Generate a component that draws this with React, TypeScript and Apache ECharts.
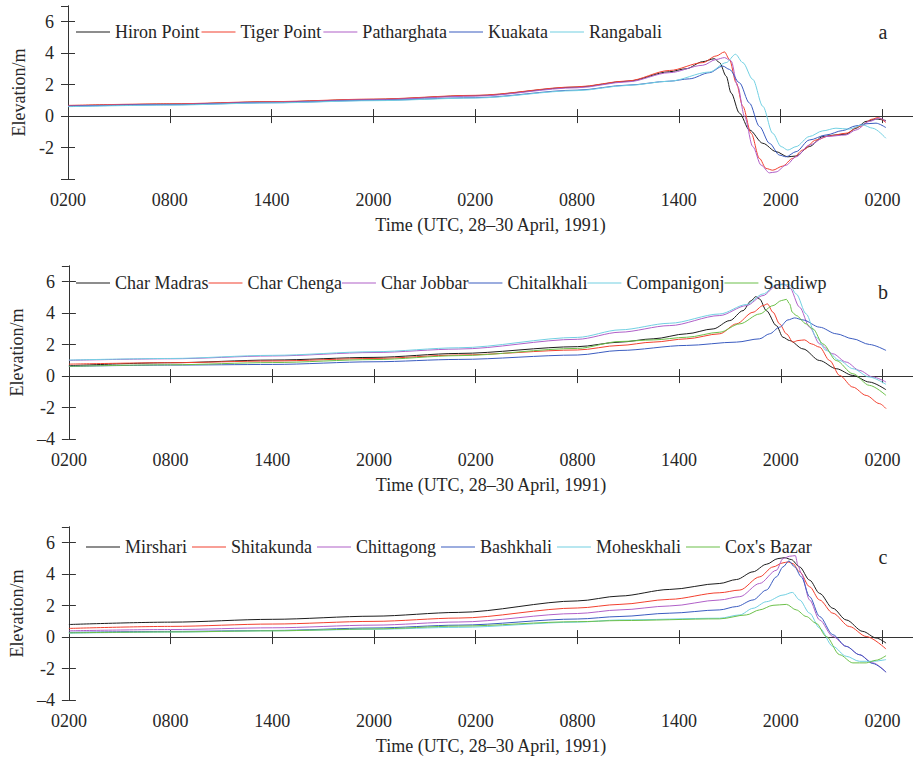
import React, { useEffect, useRef } from 'react';
import * as echarts from 'echarts';

type Pt = [number, number];

// ---------- data (x = hours since 0200 UTC 28 April 1991, y = elevation in m) ----------
const xTickLabels = ['0200', '0800', '1400', '2000', '0200', '0800', '1400', '2000', '0200'];
const yTickValues = [-4, -2, 0, 2, 4, 6];
const yTickLabels = ['\u20134', '-2', '0', '2', '4', '6'];

const panelANames = ['Hiron Point', 'Tiger Point', 'Patharghata', 'Kuakata', 'Rangabali'];
const hironPoint: Pt[] = [[0,0.65],[6,0.76],[12,0.9],[18,1.06],[24,1.3],[30,1.84],[33,2.22],[35.45,2.82],[36.43,3.01],[37.41,3.46],[38.1,3.65],[38.4,3.4],[38.79,2.54],[39.08,1.47],[39.57,0.19],[40.16,-0.88],[40.95,-1.73],[41.73,-2.26],[42.42,-2.59],[42.9,-2.54],[43.69,-1.94],[44.48,-1.3],[45.26,-1.2],[45.85,-1.15],[46.44,-0.77],[47.03,-0.34],[47.62,-0.19],[48.2,-0.28]];
const tigerPoint: Pt[] = [[0,0.68],[6,0.78],[12,0.92],[18,1.08],[24,1.32],[30,1.86],[33,2.24],[35.45,2.9],[37.41,3.4],[38.2,3.82],[38.69,4.08],[38.98,3.61],[39.38,2.12],[39.77,0.62],[40.26,-1.09],[40.75,-2.69],[41.14,-3.33],[41.53,-3.44],[42.12,-3.18],[42.71,-2.69],[43.3,-2.16],[44.09,-1.52],[44.87,-1.26],[45.85,-1.09],[46.64,-0.66],[47.42,-0.19],[47.72,-0.09],[48.2,-0.41]];
const patharghata: Pt[] = [[0,0.64],[6,0.74],[12,0.88],[18,1.04],[24,1.27],[30,1.8],[33,2.18],[35.45,2.76],[37.41,3.23],[38.2,3.6],[38.69,3.72],[39.08,3.5],[39.47,1.9],[39.87,-0.02],[40.36,-1.94],[40.85,-3.12],[41.34,-3.61],[41.73,-3.55],[42.32,-3.12],[42.91,-2.59],[43.69,-1.84],[44.68,-1.3],[45.85,-1.2],[46.44,-0.88],[47.23,-0.34],[47.82,-0.13],[48.2,-0.34]];
const kuakata: Pt[] = [[0,0.62],[6,0.72],[12,0.85],[18,1.0],[24,1.17],[30,1.65],[33,1.97],[35.45,2.22],[36.63,2.37],[37.8,2.76],[38.59,3.18],[38.98,2.97],[39.57,2.12],[40.16,0.83],[40.75,-0.66],[41.34,-1.73],[41.93,-2.48],[42.32,-2.59],[42.91,-2.26],[43.69,-1.52],[44.68,-1.2],[45.66,-0.92],[46.44,-0.62],[47.03,-0.49],[47.62,-0.45],[48.2,-0.73]];
const rangabali: Pt[] = [[0,0.6],[6,0.7],[12,0.84],[18,0.98],[24,1.15],[30,1.62],[33,1.95],[35.45,2.22],[37.8,2.8],[38.79,3.4],[39.34,3.93],[39.77,3.4],[40.36,2.33],[40.95,0.62],[41.53,-1.09],[42.03,-1.94],[42.42,-2.16],[42.91,-1.94],[43.69,-1.3],[44.48,-0.94],[45.26,-0.77],[46.05,-0.83],[46.83,-0.56],[47.42,-0.77],[48.2,-1.41]];

const panelBNames = ['Char Madras', 'Char Chenga', 'Char Jobbar', 'Chitalkhali', 'Companigonj', 'Sandiwp'];
const charMadras: Pt[] = [[0,0.66],[6,0.85],[12,1.02],[18,1.19],[23,1.44],[30,1.87],[32.51,2.16],[34.47,2.37],[36.44,2.69],[38.01,3.0],[38.99,3.53],[39.77,4.16],[40.26,4.8],[40.52,5.05],[40.75,4.9],[41.15,4.16],[41.74,3.21],[42.13,2.47],[42.52,2.26],[43.31,1.73],[44.29,0.99],[45.27,0.47],[46.25,0.04],[47.23,-0.38],[48.21,-0.87]];
const charChenga: Pt[] = [[0,0.76],[6,0.85],[12,0.96],[18,1.12],[23,1.34],[30,1.66],[32.51,1.95],[34.47,2.16],[36.44,2.37],[38.4,2.69],[39.38,3.32],[40.36,4.06],[40.95,4.48],[41.21,4.59],[41.54,4.06],[41.93,3.32],[42.33,2.69],[42.72,2.16],[43.01,2.26],[43.4,2.3],[43.8,2.05],[44.29,1.84],[44.88,0.99],[45.47,0.04],[46.25,-0.7],[47.04,-1.23],[47.82,-1.75],[48.21,-2.07]];
const charJobbar: Pt[] = [[0,1.0],[6,1.1],[12,1.28],[18,1.5],[23,1.72],[30,2.34],[32.51,2.79],[35.45,3.21],[38.4,3.85],[39.97,4.48],[40.95,5.12],[41.74,5.75],[42.13,5.86],[42.52,5.64],[43.11,4.38],[43.7,3.11],[44.29,2.05],[45.07,1.42],[45.86,0.89],[46.64,0.36],[47.43,-0.06],[48.21,-0.38]];
const chitalkhali: Pt[] = [[0,0.62],[6,0.7],[12,0.74],[18,0.91],[23,1.06],[30,1.34],[32.51,1.63],[36.44,1.95],[39.38,2.16],[40.75,2.37],[41.34,2.69],[41.93,3.11],[42.42,3.57],[42.82,3.7],[43.31,3.57],[44.29,3.11],[45.27,2.69],[46.25,2.37],[47.23,2.01],[48.21,1.63]];
const companigonj: Pt[] = [[0,1.02],[6,1.12],[12,1.32],[18,1.55],[23,1.8],[30,2.46],[32.51,2.94],[35.45,3.36],[38.4,3.95],[39.97,4.55],[40.95,5.22],[41.74,5.81],[42.52,5.81],[42.91,5.22],[43.5,3.95],[44.09,2.47],[44.68,1.63],[45.47,0.99],[46.25,0.47],[47.23,-0.06],[48.21,-0.53]];
const sandiwp: Pt[] = [[0,0.62],[6,0.72],[12,0.86],[18,1.05],[23,1.3],[30,1.76],[32.51,2.2],[34.47,2.3],[36.44,2.47],[38.4,2.79],[39.58,3.32],[40.75,3.95],[41.54,4.48],[42.03,4.8],[42.33,4.88],[42.52,4.59],[42.68,4.06],[42.91,3.85],[43.5,3.32],[43.9,3.0],[44.48,2.05],[45.27,0.99],[46.25,0.15],[47.23,-0.59],[48.21,-1.23]];

const panelCNames = ['Mirshari', 'Shitakunda', 'Chittagong', 'Bashkhali', 'Moheskhali', "Cox's Bazar"];
const mirshari: Pt[] = [[0,0.8],[6,0.95],[12,1.13],[18,1.33],[23,1.57],[30,2.3],[32.51,2.61],[35.45,3.03],[38.4,3.41],[39.38,3.66],[40.36,4.15],[41.15,4.63],[41.83,4.99],[42.23,5.05],[42.62,4.93],[43.11,4.46],[43.7,3.62],[44.29,2.78],[45.07,1.83],[45.86,1.09],[46.84,0.36],[47.63,-0.06],[48.21,-0.38]];
const shitakunda: Pt[] = [[0,0.55],[6,0.68],[12,0.83],[18,1.0],[23,1.21],[30,1.85],[32.51,2.08],[35.45,2.4],[38.4,2.82],[39.58,2.99],[40.75,3.83],[41.54,4.46],[42.13,4.72],[42.42,4.78],[42.72,4.67],[43.11,4.15],[43.7,3.2],[44.29,2.36],[45.07,1.52],[46.05,0.67],[47.04,0.04],[48.21,-0.76]];
const chittagong: Pt[] = [[0,0.4],[6,0.48],[12,0.59],[18,0.76],[23,0.96],[30,1.5],[32.51,1.73],[35.45,1.98],[38.4,2.36],[39.58,2.57],[40.75,3.41],[41.74,4.25],[42.13,4.99],[42.52,5.14],[42.86,5.18],[43.01,4.57],[43.21,4.04],[43.7,2.36],[44.29,1.09],[45.07,0.04],[45.86,-0.59],[46.64,-1.12],[47.43,-1.64],[48.21,-2.23]];
const bashkhali: Pt[] = [[0,0.3],[6,0.36],[12,0.42],[18,0.58],[23,0.76],[30,1.15],[32.51,1.31],[35.45,1.52],[38.4,1.73],[39.38,1.94],[40.36,2.36],[41.15,2.99],[41.74,3.83],[42.13,4.46],[42.48,4.84],[42.82,4.46],[43.21,3.83],[43.7,2.57],[44.29,1.31],[45.07,0.15],[45.86,-0.59],[46.64,-1.12],[47.43,-1.68],[48.21,-2.23]];
const moheskhali: Pt[] = [[0,0.25],[6,0.32],[12,0.4],[18,0.5],[23,0.62],[30,0.95],[32.51,1.09],[38.4,1.2],[39.58,1.41],[40.36,1.83],[41.15,2.25],[42.13,2.67],[42.68,2.84],[43.11,2.36],[43.7,1.52],[44.29,0.57],[45.07,-0.59],[45.86,-1.22],[46.64,-1.54],[47.43,-1.54],[48.21,-1.43]];
const coxsBazar: Pt[] = [[0,0.27],[6,0.33],[12,0.4],[18,0.52],[23,0.7],[30,0.98],[32.51,1.05],[38.4,1.16],[39.97,1.41],[40.75,1.73],[41.54,2.02],[42.33,2.08],[42.91,1.73],[43.5,1.31],[44.09,0.88],[44.68,0.04],[45.47,-1.12],[46.25,-1.64],[47.04,-1.64],[47.63,-1.47],[48.21,-1.18]];

const panelAData = [hironPoint, tigerPoint, patharghata, kuakata, rangabali];
const panelBData = [charMadras, charChenga, charJobbar, chitalkhali, companigonj, sandiwp];
const panelCData = [mirshari, shitakunda, chittagong, bashkhali, moheskhali, coxsBazar];
const panelLetters = ['a', 'b', 'c'];

// ---------- styles ----------
const LINE_COLORS = ['#1c1c1c', '#f2402f', '#b060c8', '#3b5cc0', '#72d0e2', '#6cc04a'];
const AXIS_COLOR = '#333333';
const TEXT_COLOR = '#262626';
const FONT = 'Liberation Serif';
const X_MAX = 49.8;
const X_TITLE = 'Time (UTC, 28\u201330 April, 1991)';
const Y_TITLE = 'Elevation/m';

const GRID_TOPS = [6, 266, 527];
const LEGEND_TOPS = [23, 274, 538];
const LEGEND_LEFTS = [76, 76, 86];
const LEGEND_GAPS = [2, 0, 5];
const LETTER_Y = [32, 292, 557];

function xLabel(v: number): string {
  if (Math.abs(v % 6) > 1e-6) return '';
  return xTickLabels[Math.round(v / 6)] ?? '';
}

function yLabel(v: number, panel: number): string {
  const i = yTickValues.indexOf(v);
  if (i < 0) return '';
  if (panel === 0 && v === -4) return '';
  return yTickLabels[i];
}

export default function App() {
  const ref = useRef<HTMLDivElement>(null);

  useEffect(() => {
    if (!ref.current) return;
    const chart = echarts.init(ref.current, undefined, { renderer: 'svg' });

    const panels = [
      { names: panelANames, data: panelAData },
      { names: panelBNames, data: panelBData },
      { names: panelCNames, data: panelCData },
    ];

    const axisLine = { show: true, lineStyle: { color: AXIS_COLOR, width: 1 } };
    const axisTick = { show: true, inside: true, length: 7, lineStyle: { color: AXIS_COLOR, width: 1 } };
    const labelFont = { fontFamily: FONT, fontSize: 18, color: TEXT_COLOR };

    const grid: any[] = [];
    const xAxis: any[] = [];
    const yAxis: any[] = [];
    const series: any[] = [];
    const legend: any[] = [];
    const graphic: any[] = [];

    panels.forEach((p, i) => {
      grid.push({ left: 68, top: GRID_TOPS[i], width: 846, height: 173 });
      xAxis.push({
        type: 'value', gridIndex: i, position: 'bottom', min: 0, max: X_MAX, interval: 6,
        axisLine, axisTick, splitLine: { show: false },
        axisLabel: { ...labelFont, margin: 12, showMaxLabel: false, formatter: (v: number) => xLabel(v) },
        name: X_TITLE, nameLocation: 'middle', nameGap: 37,
        nameTextStyle: { ...labelFont },
      });
      xAxis.push({
        type: 'value', gridIndex: i, position: 'top', min: 0, max: X_MAX, interval: 6,
        axisLine, axisTick, splitLine: { show: false }, axisLabel: { show: false },
      });
      yAxis.push({
        type: 'value', gridIndex: i, position: 'left', min: -4, max: 7, interval: 2,
        axisLine, axisTick, splitLine: { show: false },
        axisLabel: { ...labelFont, margin: 14, showMaxLabel: false, formatter: (v: number) => yLabel(v, i) },
        name: Y_TITLE, nameLocation: 'middle', nameGap: 40,
        nameTextStyle: { ...labelFont },
      });
      yAxis.push({
        type: 'value', gridIndex: i, position: 'right', min: -4, max: 7, interval: 2,
        axisLine, axisTick, splitLine: { show: false }, axisLabel: { show: false },
      });
      p.names.forEach((name, k) => {
        series.push({
          type: 'line', name, xAxisIndex: 2 * i, yAxisIndex: 2 * i,
          data: p.data[k], symbol: 'none', showSymbol: false, smooth: 0.3, smoothMonotone: 'x',
          lineStyle: { color: LINE_COLORS[k], width: 1 },
          itemStyle: { color: LINE_COLORS[k] },
          color: LINE_COLORS[k],
          z: 2,
        });
      });
      legend.push({
        data: p.names, left: LEGEND_LEFTS[i], top: LEGEND_TOPS[i], orient: 'horizontal',
        padding: 0, itemGap: LEGEND_GAPS[i], itemWidth: 34, itemHeight: 1.2, icon: 'rect',
        textStyle: { ...labelFont },
        selectedMode: false,
      });
      graphic.push({
        type: 'text', x: 883, y: LETTER_Y[i],
        style: { text: panelLetters[i], fontFamily: FONT, fontSize: 20, fill: TEXT_COLOR, textAlign: 'center', textVerticalAlign: 'middle' },
      });
    });

    chart.setOption({
      animation: false,
      backgroundColor: '#ffffff',
      grid, xAxis, yAxis, series, legend, graphic,
    });

    return () => chart.dispose();
  }, []);

  return <div ref={ref} style={{ position: 'absolute', left: 0, top: 0, width: 913, height: 760, background: '#fff' }} />;
}
